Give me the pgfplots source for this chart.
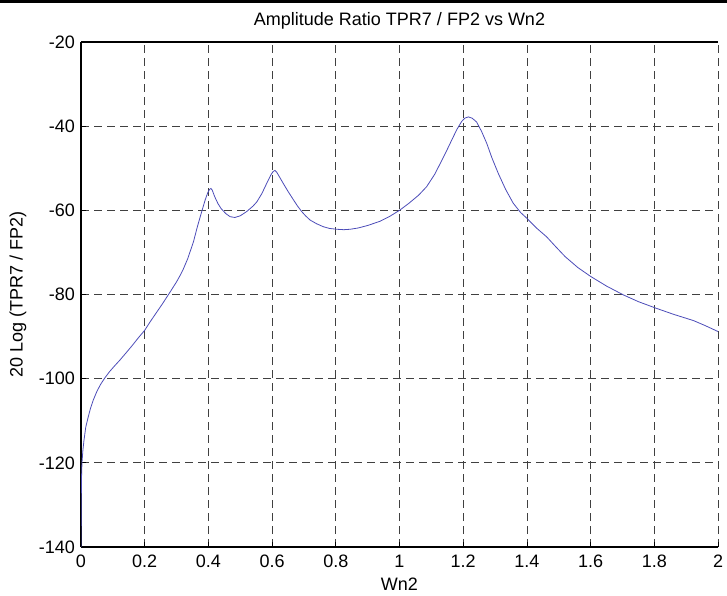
\documentclass[border=0pt]{standalone}
\usepackage{fontspec}
\setmainfont{Liberation Sans}
\usepackage{pgfplots}
\pgfplotsset{compat=1.18}
\definecolor{curve}{rgb}{0.30,0.30,0.72}
\begin{document}
\fontsize{18}{21}\selectfont
\begin{tikzpicture}[x=1pt,y=1pt]
\useasboundingbox (-81,-49) rectangle (646,547);
\fill[black] (-81,543.5) rectangle (646,547);
\begin{axis}[
  at={(0,0)}, anchor=south west,
  scale only axis, width=637pt, height=505pt,
  xmin=0, xmax=2, ymin=-140, ymax=-20,
  separate axis lines,
  axis x line*=box, axis y line*=left,
  axis line style={black, line width=1.1pt},
  xtick={0,0.2,0.4,0.6,0.8,1,1.2,1.4,1.6,1.8,2},
  xticklabels={0,0.2,0.4,0.6,0.8,1,1.2,1.4,1.6,1.8,2},
  ytick={-140,-120,-100,-80,-60,-40,-20},
  yticklabels={-140,-120,-100,-80,-60,-40,-20},
  tick align=inside, xtick pos=bottom, ytick pos=left,
  major tick length=5pt,
  tick style={black, line width=0.8pt},
  grid=major,
  grid style={dash pattern=on 8pt off 5pt, black!75, line width=0.8pt},
  /pgf/number format/assume math mode=true,
  ticklabel style={font=\fontsize{18}{21}\selectfont},
  xticklabel style={yshift=-2pt},
  title={Amplitude Ratio TPR7 / FP2 vs Wn2},
  title style={font=\fontsize{18}{21}\selectfont, anchor=base, at={(axis description cs:0.5,1)}, yshift=10pt},
  xlabel={Wn2},
  xlabel style={font=\fontsize{18}{21}\selectfont, anchor=base, at={(axis description cs:0.5,0)}, yshift=-43pt},
  ylabel={20 Log (TPR7 / FP2)},
  ylabel style={font=\fontsize{18}{21}\selectfont, anchor=center, at={(axis description cs:-0.099,0.5)}, rotate=0},
  clip=true,
]
\addplot[curve, line width=0.8pt] coordinates {
(0,-140) (0.0005,-132) (0.0015,-124) (0.003,-120) (0.006,-117) (0.0094,-114.6)
(0.015,-111.5) (0.023,-109) (0.03,-107) (0.039,-105) (0.05,-103) (0.062,-101.3)
(0.075,-99.8) (0.09,-98.3) (0.105,-97) (0.122,-95.6) (0.14,-94) (0.16,-92.2)
(0.18,-90.3) (0.2,-88.5) (0.217,-86.5) (0.235,-84.5) (0.255,-82.3) (0.279,-79.5)
(0.3,-77) (0.311,-75.5) (0.321,-74) (0.335,-71.5) (0.353,-67.5) (0.365,-64)
(0.379,-60.3) (0.39,-57.5) (0.398,-55.8) (0.404,-55) (0.408,-54.8) (0.412,-55.2)
(0.42,-56.8) (0.43,-58.4) (0.44,-59.6) (0.455,-60.8) (0.468,-61.5) (0.483,-61.7)
(0.5,-61.3) (0.52,-60.3) (0.54,-59) (0.552,-58) (0.568,-56) (0.583,-53.6)
(0.596,-51.6) (0.603,-50.8) (0.609,-50.5) (0.615,-51) (0.625,-52.3) (0.635,-53.6)
(0.65,-55.5) (0.667,-57.5) (0.68,-59) (0.693,-60.3) (0.705,-61.3) (0.719,-62.3)
(0.74,-63.2) (0.761,-63.9) (0.78,-64.3) (0.803,-64.5) (0.825,-64.6) (0.845,-64.5)
(0.87,-64.2) (0.9,-63.6) (0.939,-62.6) (0.97,-61.4) (1.0,-60) (1.03,-58.3)
(1.06,-56.4) (1.085,-54.4) (1.11,-51.5) (1.127,-49) (1.145,-46.3) (1.164,-43.3)
(1.18,-40.8) (1.195,-38.9) (1.205,-38.1) (1.216,-37.8) (1.228,-38.1) (1.242,-39)
(1.258,-41.3) (1.274,-44.1) (1.29,-47.5) (1.31,-51.2) (1.333,-55) (1.357,-58.3)
(1.38,-60.5) (1.4,-61.9) (1.43,-64.2) (1.462,-66.3) (1.49,-68.6) (1.52,-71)
(1.56,-73.6) (1.6,-75.7) (1.65,-78) (1.703,-80.1) (1.75,-81.7) (1.807,-83.3)
(1.86,-84.7) (1.923,-86.2) (1.96,-87.4) (2.0,-88.8)
};
\end{axis}
\end{tikzpicture}
\end{document}
